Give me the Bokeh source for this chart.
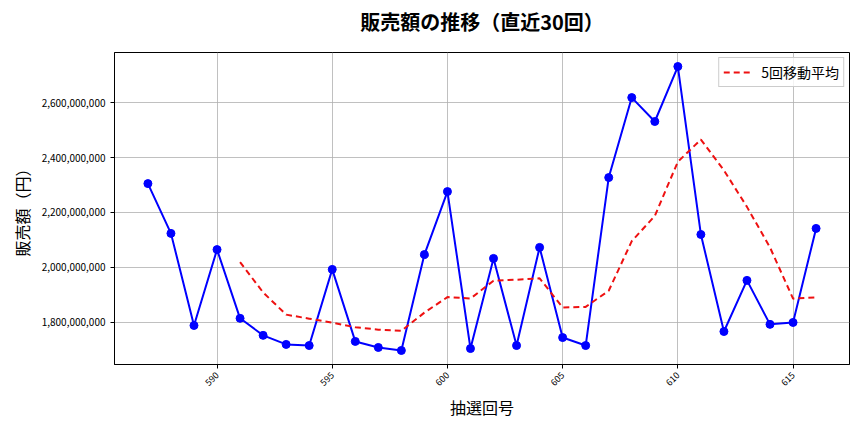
import math
import pandas as pd
from bokeh.plotting import figure
from bokeh.models import NumeralTickFormatter, FixedTicker, Range1d, Legend, LegendItem
from bokeh.embed import file_html
from bokeh.resources import INLINE

draws = list(range(587, 617))
sales = [2305, 2124, 1789, 2065, 1815, 1753, 1720, 1716, 1993, 1731,
         1709, 1698, 2047, 2276, 1705, 2033, 1716, 2073, 1745, 1716,
         2327, 2618, 2531, 2731, 2120, 1767, 1953, 1793, 1800, 2142]
sales = [v * 1_000_000 for v in sales]
ma5 = pd.Series(sales).rolling(5).mean().tolist()
ma_x = [d for d, m in zip(draws, ma5) if not math.isnan(m)]
ma_y = [m for m in ma5 if not math.isnan(m)]

x_ticks = [590, 595, 600, 605, 610, 615]
y_ticks = [1_800_000_000, 2_000_000_000, 2_200_000_000, 2_400_000_000, 2_600_000_000]

FONT = "Noto Sans CJK JP"

p = figure(width=864, height=432, output_backend="svg", toolbar_location=None,
           x_range=Range1d(585.55, 617.45), y_range=Range1d(1_647_000_000, 2_782_000_000),
           min_border_left=114, min_border_right=15, min_border_top=52, min_border_bottom=68)

p.title.text = "販売額の推移（直近30回）\n"
p.title.text_font = FONT
p.title.text_font_size = "20px"
p.title.text_font_style = "bold"
p.title.text_color = "black"
p.title.text_line_height = 0.56
p.title.align = "center"
p.title.offset = 0
p.title.standoff = 0

l1 = p.line(draws, sales, line_color="#0000ff", line_width=2)
p.scatter(draws, sales, size=8, color="#0000ff")
l2 = p.line(ma_x, ma_y, line_color="#ee1111", line_width=2, line_dash="6 4")

legend = Legend(items=[LegendItem(label="5回移動平均", renderers=[l2])],
                location="top_right", label_text_font=FONT, label_text_font_size="14px",
                label_text_color="black", label_height=14, glyph_height=14,
                border_line_color="#cccccc", border_line_alpha=1.0, background_fill_alpha=0.8,
                glyph_width=30, margin=5, padding=4, spacing=0, label_standoff=8)
p.add_layout(legend)

p.xaxis.ticker = FixedTicker(ticks=x_ticks)
p.yaxis.ticker = FixedTicker(ticks=y_ticks)
p.yaxis.formatter = NumeralTickFormatter(format="0,0")
p.xaxis.major_label_orientation = math.pi / 4

for ax in (p.xaxis[0], p.yaxis[0]):
    ax.major_label_text_font = FONT
    ax.axis_label_text_font = FONT
    ax.axis_label_text_font_style = "normal"
    ax.axis_label_text_font_size = "16px"
    ax.axis_label_text_color = "black"
    ax.minor_tick_line_color = None
    ax.major_tick_in = 0
    ax.major_tick_out = 4
    ax.axis_line_color = "black"
    ax.major_tick_line_color = "black"
    ax.major_label_text_color = "black"

p.xaxis.major_label_text_font_size = "9px"
p.yaxis.major_label_text_font_size = "10px"
p.xaxis.axis_label_standoff = 3
p.xaxis.axis_label = "抽選回号"
p.yaxis.axis_label = "販売額（円）"

p.grid.grid_line_color = "#b0b0b0"
p.grid.grid_line_alpha = 1.0
p.grid.grid_line_width = 0.8
p.outline_line_color = "black"
p.outline_line_alpha = 1.0
p.outline_line_width = 1

open("out.html", "w").write(file_html(p, INLINE))
